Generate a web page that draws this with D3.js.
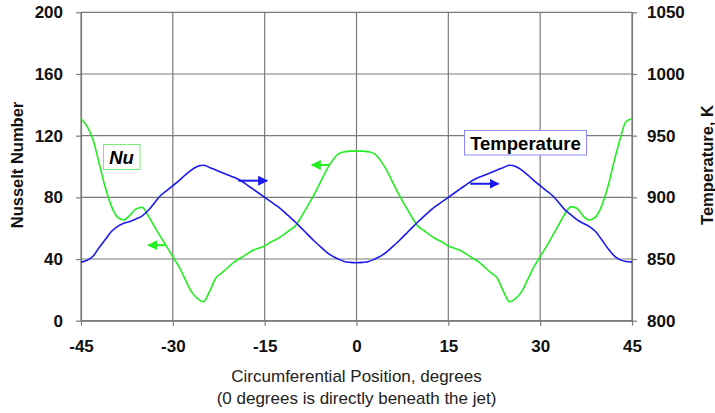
<!DOCTYPE html>
<html><head><meta charset="utf-8">
<script src="https://cdn.jsdelivr.net/npm/d3@7"></script>
<style>body{margin:0;background:#fff}svg{display:block}</style>
</head><body>
<svg id="c" width="715" height="413"></svg>
<script>
const xTicks = [-45,-30,-15,0,15,30,45];
const nuTicks = [0,40,80,120,160,200];
const tTicks = [800,850,900,950,1000,1050];
const positions = d3.range(-45, 46, 1);
const nusselt = [
 131,126,117,101.5,86,74,67,65.3,68.5,72.5,73.5,68,61,54.5,48,41.5,35,27,19,14.5,12.3,19,27.5,31,34.5,38,40.5,43,45.5,47,48.5,51,53,55.5,58.5,61.5,67.5,74.3,81.2,89,97,103.5,108,109.5,110,110,
 110,109.5,108,103.5,97,89,81.2,74.3,67.5,61.5,58.5,55.5,53,51,48.5,47,45.5,43,40.5,38,34.5,31,27.5,19,12.3,14.5,19,27,35,41.5,48,55,62,69,73.8,73,68,65.3,67,74,86,102,117,129,131
];
const temperature = [
 847.5,849,852.5,859.5,866,872.5,876.5,879,880.5,882.5,885,889.5,895.5,901.5,905.5,909.5,913.5,918,922,925,926,924.2,922.2,920.2,918.2,916.2,913.8,910.5,907,903.5,900,896.5,893,889,884.5,880,875,870,865,860.5,856,852.5,850,848,847.3,847,
 847.3,848,850,852.5,856,860.5,865,870,875,880,884.5,889,893,896.5,900,903.5,907,910.5,913.8,916.2,918.2,920.2,922.2,924.2,926,925,922,918,913.5,909.5,905.5,901.5,896,890,886,882,879,876.5,872.5,866,859,853,849.5,848,847.5
];
const legendNu = "Nu", legendT = "Temperature";
const xTitle1 = "Circumferential Position, degrees";
const xTitle2 = "(0 degrees is directly beneath the jet)";
const yTitleL = "Nusselt Number", yTitleR = "Temperature, K";
// arrow annotations: [x0, x1, value]
const nuArrows = [[-31.1,-34,49],[-4.4,-7.3,101]];
const tArrows = [[-19.3,-14.6,913.5],[18.6,23.2,911]];

const svg = d3.select("#c");
const L=81, R=632, T=12.3, B=320.7;
const x = d3.scaleLinear().domain([-45,45]).range([L,R]);
const yL = d3.scaleLinear().domain([0,200]).range([B,T]);
const yR = d3.scaleLinear().domain([800,1050]).range([B,T]);
const grid = "#7a7a7a";
const green = "#22ee22", blue = "#1a1aee";
const ff = "Liberation Sans, Arial, sans-serif";

// gridlines
svg.append("g").selectAll("line").data(nuTicks).join("line")
 .attr("x1",L).attr("x2",R).attr("y1",d=>yL(d)).attr("y2",d=>yL(d))
 .attr("stroke",grid).attr("stroke-width",1.2);
svg.append("g").selectAll("line").data(xTicks).join("line")
 .attr("x1",d=>x(d)).attr("x2",d=>x(d)).attr("y1",T).attr("y2",B)
 .attr("stroke",grid).attr("stroke-width",1.2);

const fmt = d => String(d);
const ax = svg.append("g").attr("transform",`translate(0,${B})`)
 .call(d3.axisBottom(x).tickValues(xTicks).tickFormat(fmt).tickSize(5).tickSizeOuter(0).tickPadding(14));
const ayl = svg.append("g").attr("transform",`translate(${L},0)`)
 .call(d3.axisLeft(yL).tickValues(nuTicks).tickFormat(fmt).tickSize(5).tickSizeOuter(0).tickPadding(13));
const ayr = svg.append("g").attr("transform",`translate(${R},0)`)
 .call(d3.axisRight(yR).tickValues(tTicks).tickFormat(fmt).tickSize(5).tickSizeOuter(0).tickPadding(10));
[ax,ayl,ayr].forEach(g=>{
  g.selectAll("path,line").attr("stroke",grid).attr("stroke-width",1.2);
  g.selectAll("text").attr("font-family",ff)
   .attr("font-size",17).attr("font-weight","bold").attr("fill","#111");
});

// curves
const lineNu = d3.line().x((d,i)=>x(positions[i])).y(d=>yL(d)).curve(d3.curveMonotoneX);
const lineT = d3.line().x((d,i)=>x(positions[i])).y(d=>yR(d)).curve(d3.curveMonotoneX);
svg.append("path").attr("d",lineNu(nusselt)).attr("fill","none").attr("stroke",green).attr("stroke-width",1.6);
svg.append("path").attr("d",lineT(temperature)).attr("fill","none").attr("stroke",blue).attr("stroke-width",1.6);

// arrows
const defs = svg.append("defs");
[["ag",green],["ab",blue]].forEach(([id,c])=>{
  defs.append("marker").attr("id",id).attr("viewBox","0 0 10 10").attr("refX",9).attr("refY",5)
   .attr("markerWidth",5).attr("markerHeight",5).attr("orient","auto").attr("markerUnits","strokeWidth")
   .append("path").attr("d","M0,0L10,5L0,10z").attr("fill",c);
});
nuArrows.forEach(a=>svg.append("line").attr("x1",x(a[0])).attr("x2",x(a[1])).attr("y1",yL(a[2])).attr("y2",yL(a[2]))
  .attr("stroke",green).attr("stroke-width",2).attr("marker-end","url(#ag)"));
tArrows.forEach(a=>svg.append("line").attr("x1",x(a[0])).attr("x2",x(a[1])).attr("y1",yR(a[2])).attr("y2",yR(a[2]))
  .attr("stroke",blue).attr("stroke-width",2).attr("marker-end","url(#ab)"));

// legend boxes
svg.append("rect").attr("x",103.5).attr("y",144.5).attr("width",36.5).attr("height",25)
 .attr("fill","#fff").attr("stroke","#77ee77").attr("stroke-width",1);
svg.append("text").attr("x",121.5).attr("y",163.5).attr("text-anchor","middle")
 .attr("font-family",ff).attr("font-size",18.5)
 .attr("font-weight","bold").attr("font-style","italic").attr("fill","#000").text(legendNu);
svg.append("rect").attr("x",464.5).attr("y",130.5).attr("width",122).attr("height",24.5)
 .attr("fill","#fff").attr("stroke","#8888ff").attr("stroke-width",1);
svg.append("text").attr("x",525.5).attr("y",149.5).attr("text-anchor","middle")
 .attr("font-family",ff).attr("font-size",18.5)
 .attr("font-weight","bold").attr("fill","#000").text(legendT);

// titles
svg.append("text").attr("transform",`translate(23,165) rotate(-90)`).attr("text-anchor","middle")
 .attr("font-family",ff).attr("font-size",16.5).attr("font-weight","bold").attr("fill","#111").text(yTitleL);
svg.append("text").attr("transform",`translate(713,165) rotate(-90)`).attr("text-anchor","middle")
 .attr("font-family",ff).attr("font-size",16.5).attr("font-weight","bold").attr("fill","#111").text(yTitleR);
svg.append("text").attr("x",356.5).attr("y",382).attr("text-anchor","middle")
 .attr("font-family",ff).attr("font-size",17).attr("fill","#222").text(xTitle1);
svg.append("text").attr("x",356.5).attr("y",404).attr("text-anchor","middle")
 .attr("font-family",ff).attr("font-size",17).attr("fill","#222").text(xTitle2);
</script>
</body></html>
